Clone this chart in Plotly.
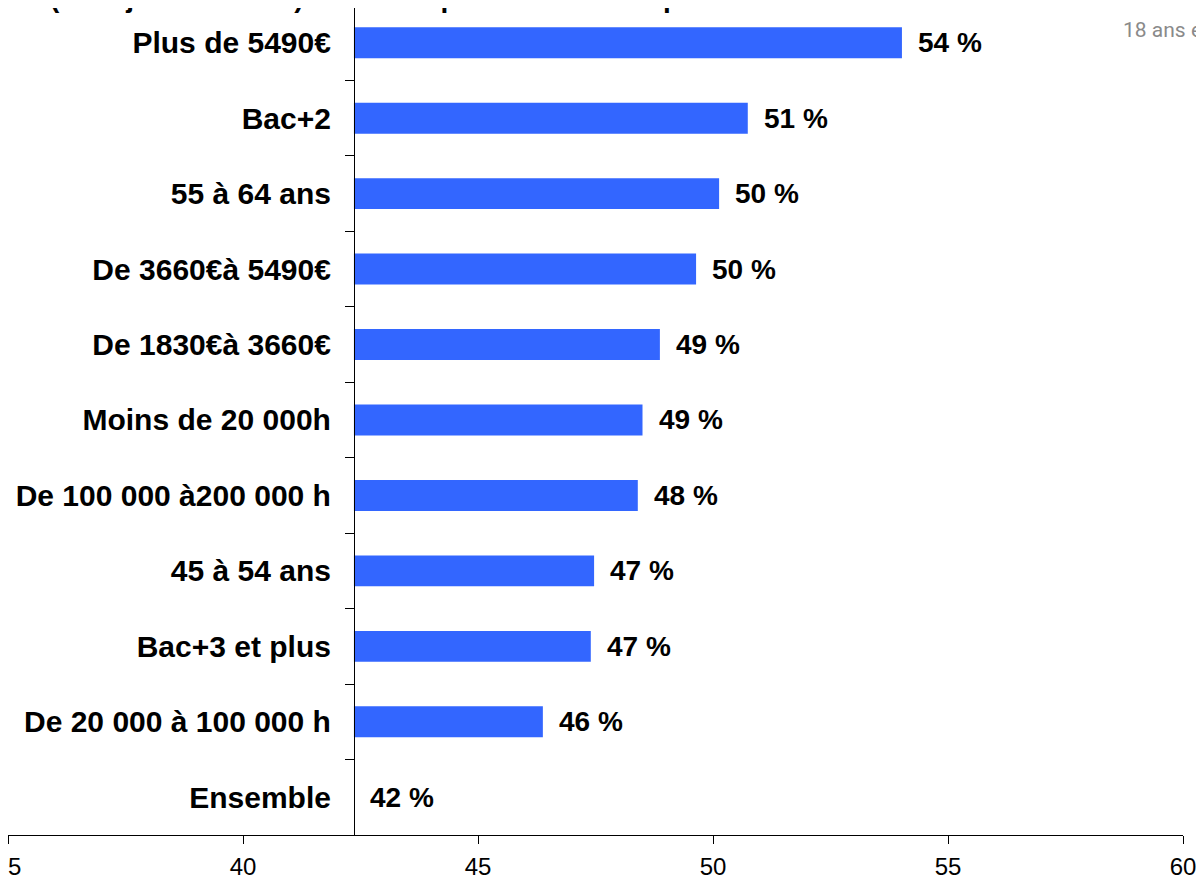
import plotly.graph_objects as go

categories = [
    "Plus de 5490€",
    "Bac+2",
    "55 à 64 ans",
    "De 3660€à 5490€",
    "De 1830€à 3660€",
    "Moins de 20 000h",
    "De 100 000 à200 000 h",
    "45 à 54 ans",
    "Bac+3 et plus",
    "De 20 000 à 100 000 h",
    "Ensemble",
]
values = [54.02, 50.74, 50.13, 49.64, 48.87, 48.50, 48.40, 47.47, 47.40, 46.38, 42.36]
value_labels = ["54 %", "51 %", "50 %", "50 %", "49 %", "49 %", "48 %", "47 %", "47 %", "46 %", "42 %"]
base_value = 42.36
x_ticks = [35, 40, 45, 50, 55, 60]

title_text = "(tous jours ouvrés) – taux de personnes à temps"
note_lines = ["Base 2000 personnes", "18 ans et plus"]

fig = go.Figure()
fig.add_trace(go.Bar(
    y=categories,
    x=[v - base_value for v in values],
    base=base_value,
    orientation="h",
    width=0.41,
    marker=dict(color="#3366FF", line=dict(width=0)),
    hoverinfo="skip",
))

annotations = []
for c, v, t in zip(categories, values, value_labels):
    annotations.append(dict(
        x=v, y=c, xref="x", yref="y", text=t, showarrow=False,
        xanchor="left", yanchor="middle", xshift=14,
        font=dict(family="Liberation Sans, Arial", size=28, color="black", weight="bold"),
    ))

annotations.append(dict(
    x=0.034, y=1.0, xref="paper", yref="paper", text=title_text, showarrow=False,
    xanchor="left", yanchor="bottom", yshift=-7,
    font=dict(family="Liberation Sans, Arial", size=28, color="black", weight="bold"),
))
annotations.append(dict(
    x=0.947, y=1.0, xref="paper", yref="paper", text=note_lines[0], showarrow=False,
    xanchor="left", yanchor="bottom", yshift=-7,
    font=dict(family="Roboto, Liberation Sans", size=21, color="#8a8a8a"),
))
annotations.append(dict(
    x=0.947, y=1.0, xref="paper", yref="paper", text=note_lines[1], showarrow=False,
    xanchor="left", yanchor="bottom", yshift=-36,
    font=dict(family="Roboto, Liberation Sans", size=21, color="#8a8a8a"),
))

fig.update_layout(
    width=1196, height=874,
    margin=dict(l=0, r=21, t=0, b=47, autoexpand=False),
    paper_bgcolor="white", plot_bgcolor="white",
    showlegend=False,
    annotations=annotations,
    xaxis=dict(
        range=[35, 60], tickvals=x_ticks, ticktext=[str(t) for t in x_ticks],
        showgrid=False, zeroline=False, showline=True, linecolor="black", linewidth=1,
        ticks="outside", ticklen=8, tickcolor="black", ticklabeloverflow="allow",
        ticklabelstandoff=2, automargin=False,
        tickfont=dict(family="Liberation Sans, Arial", size=24, color="black"),
        fixedrange=True,
    ),
    yaxis=dict(
        type="category", categoryorder="array", categoryarray=categories,
        range=[10.5, -0.46], anchor="free", position=(base_value - 35) / 25,
        showgrid=False, zeroline=False, showline=True, linecolor="black", linewidth=1,
        ticks="outside", ticklen=9, tickcolor="black", tickson="boundaries",
        ticklabelstandoff=17, automargin=False,
        tickfont=dict(family="Liberation Sans, Arial", size=30, color="black", weight="bold"),
        fixedrange=True,
    ),
)

fig.write_html("out.html")
